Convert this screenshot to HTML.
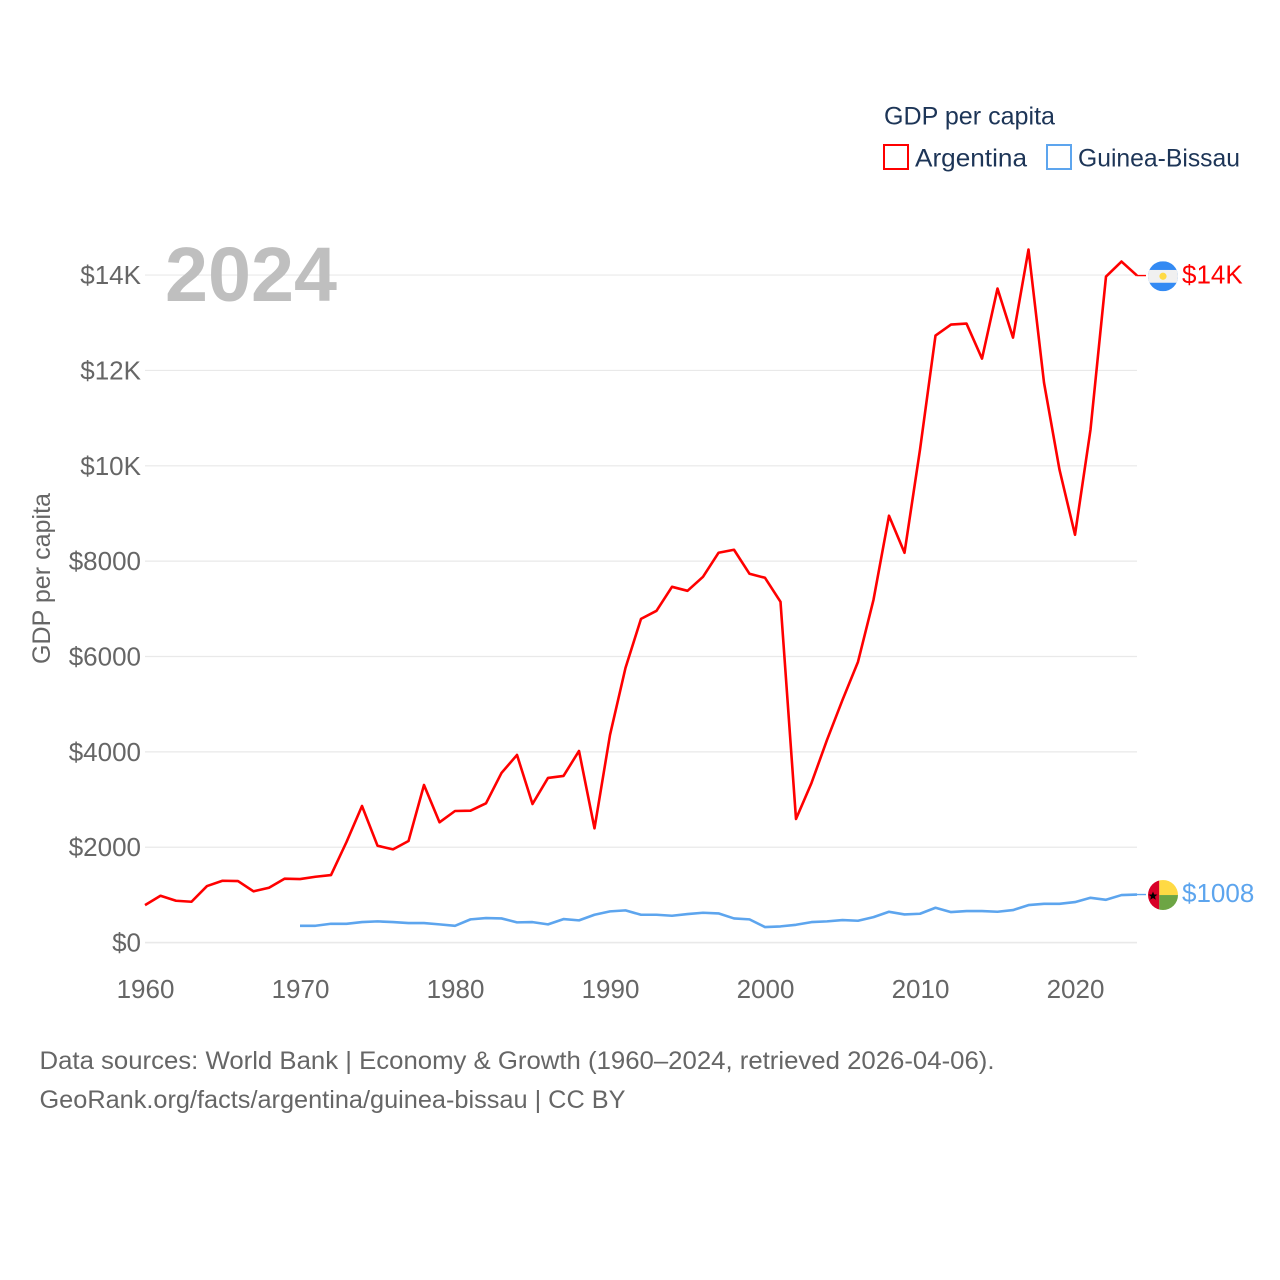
<!DOCTYPE html>
<html lang="en">
<head>
<meta charset="utf-8">
<title>GDP per capita: Argentina and Guinea-Bissau</title>
<style>
html,body{margin:0;padding:0;background:#fff;}
#chart{display:block;width:1280px;height:1280px;font-family:"Liberation Sans",sans-serif;}
</style>
</head>
<body>
<svg id="chart" xmlns="http://www.w3.org/2000/svg" width="1280" height="1280" viewBox="0 0 1280 1280">
  <rect x="0" y="0" width="1280" height="1280" fill="#ffffff"/>
  <g id="grid"></g>
  <g id="y-axis"></g>
  <g id="x-axis"></g>
  <text transform="translate(50,578.5) rotate(-90)" text-anchor="middle" font-size="25" fill="#666666" textLength="171" lengthAdjust="spacingAndGlyphs">GDP per capita</text>
  <text x="165" y="301" font-size="77" font-weight="700" fill="#bfbfbf" textLength="172" lengthAdjust="spacingAndGlyphs">2024</text>
  <g id="series"></g>
  <g id="flag-argentina"></g>
  <g id="flag-guinea"></g>
  <g id="end-labels"></g>
  <g>
    <text x="884" y="124.5" font-size="25" fill="#1d3557" textLength="171" lengthAdjust="spacingAndGlyphs">GDP per capita</text>
    <rect x="884" y="145" width="24" height="24" fill="none" stroke="#ff0000" stroke-width="2"/>
    <text x="915" y="166.5" font-size="25" fill="#1d3557" textLength="112" lengthAdjust="spacingAndGlyphs">Argentina</text>
    <rect x="1047" y="145" width="24" height="24" fill="none" stroke="#5da5ee" stroke-width="2"/>
    <text x="1078" y="166.5" font-size="25" fill="#1d3557" textLength="162" lengthAdjust="spacingAndGlyphs">Guinea-Bissau</text>
  </g>
  <text x="39.5" y="1069" font-size="25" fill="#666666" textLength="955" lengthAdjust="spacingAndGlyphs">Data sources: World Bank | Economy &amp; Growth (1960–2024, retrieved 2026-04-06).</text>
  <text x="39.5" y="1108" font-size="25" fill="#666666" textLength="586" lengthAdjust="spacingAndGlyphs">GeoRank.org/facts/argentina/guinea-bissau | CC BY</text>
</svg>
<script>
const years = [1960,1961,1962,1963,1964,1965,1966,1967,1968,1969,1970,1971,1972,1973,1974,1975,1976,1977,1978,1979,1980,1981,1982,1983,1984,1985,1986,1987,1988,1989,1990,1991,1992,1993,1994,1995,1996,1997,1998,1999,2000,2001,2002,2003,2004,2005,2006,2007,2008,2009,2010,2011,2012,2013,2014,2015,2016,2017,2018,2019,2020,2021,2022,2023,2024];
const argentinaValues = [787,982,878,857,1186,1297,1290,1075,1150,1340,1333,1381,1417,2110,2865,2032,1956,2130,3306,2523,2760,2767,2922,3558,3936,2907,3453,3495,4020,2397,4356,5762,6790,6958,7462,7378,7672,8176,8239,7735,7651,7147,2592,3348,4250,5090,5888,7190,8953,8176,10338,12731,12962,12983,12248,13717,12689,14536,11745,9918,8554,10758,13969,14284,13990];
const guineaValues = [null,null,null,null,null,null,null,null,null,null,353,353,395,395,430,445,430,409,409,382,353,487,514,507,424,430,382,493,466,584,655,676,584,584,563,598,626,612,507,487,325,340,374,430,445,472,458,535,647,591,605,731,640,661,661,647,682,787,814,814,850,940,898,997,1008];
const yTickValues = [0,2000,4000,6000,8000,10000,12000,14000];
const yTickLabels = ["$0","$2000","$4000","$6000","$8000","$10K","$12K","$14K"];
const xTickValues = [1960,1970,1980,1990,2000,2010,2020];
const xTickLabels = ["1960","1970","1980","1990","2000","2010","2020"];
const endLabels = ["$14K","$1008"];

const NS = "http://www.w3.org/2000/svg";
function xScale(year){ return 145 + (year - 1960) * 15.5; }
function yScale(value){ return 942.6 - value * 0.04768; }
function make(tag, attrs, parent){
  const el = document.createElementNS(NS, tag);
  for (const k in attrs) el.setAttribute(k, attrs[k]);
  parent.appendChild(el);
  return el;
}
function linePath(values){
  let d = "";
  values.forEach(function(v, i){
    if (v === null) return;
    d += (d ? "L" : "M") + xScale(years[i]).toFixed(2) + " " + yScale(v).toFixed(2);
  });
  return d;
}

const grid = document.getElementById("grid");
const yAxis = document.getElementById("y-axis");
yTickValues.forEach(function(v, i){
  const gl = make("line", {x1:xScale(1960), x2:xScale(2024), y1:yScale(v), y2:yScale(v), stroke:"#e9e9e9", "stroke-width":v === 0 ? 1.6 : 1.2}, grid);
  
  
  const t = make("text", {x:141, y:yScale(v) + 9, "text-anchor":"end", "font-size":26, fill:"#666666"}, yAxis);
  t.textContent = yTickLabels[i];
  
  
});

const xAxis = document.getElementById("x-axis");
xTickValues.forEach(function(v, i){
  const t = make("text", {x:xScale(v) + 0.5, y:998, "text-anchor":"middle", "font-size":26, fill:"#666666"}, xAxis);
  t.textContent = xTickLabels[i];
  
  
});

const series = document.getElementById("series");
const lastArg = argentinaValues[argentinaValues.length - 1];
const lastGui = guineaValues[guineaValues.length - 1];

const connA = make("line", {x1:xScale(2024), x2:1146, y1:yScale(lastArg), y2:yScale(lastArg), stroke:"#ff0000", "stroke-width":1.4}, series);


const connG = make("line", {x1:xScale(2024), x2:1146, y1:yScale(lastGui), y2:yScale(lastGui), stroke:"#5da5ee", "stroke-width":1.4}, series);



const guineaLine = make("path", {d:linePath(guineaValues), fill:"none", stroke:"#5da5ee", "stroke-width":2.6, "stroke-linejoin":"round"}, series);


const argentinaLine = make("path", {d:linePath(argentinaValues), fill:"none", stroke:"#ff0000", "stroke-width":2.6, "stroke-linejoin":"round"}, series);



/* flags follow the last data value */
const flagCx = 1163, flagR = 15;
const ay = yScale(lastArg) + 0.7;
const fa = document.getElementById("flag-argentina");
make("defs", {}, fa).innerHTML = '<clipPath id="clip-a"><circle cx="' + flagCx + '" cy="' + ay + '" r="' + flagR + '"/></clipPath>';
const aGroup = make("g", {"clip-path":"url(#clip-a)"}, fa);
make("rect", {x:flagCx - flagR, y:ay - flagR, width:30, height:30, fill:"#338af3"}, aGroup);
make("rect", {x:flagCx - flagR, y:ay - 6.3, width:30, height:12.8, fill:"#f0f0f0"}, aGroup);
make("circle", {cx:flagCx, cy:ay, r:3.6, fill:"#ffda44"}, aGroup);

const gy = yScale(lastGui) + 0.5;
const fg = document.getElementById("flag-guinea");
make("defs", {}, fg).innerHTML = '<clipPath id="clip-g"><circle cx="' + flagCx + '" cy="' + gy + '" r="' + flagR + '"/></clipPath>';
const gGroup = make("g", {"clip-path":"url(#clip-g)"}, fg);
make("rect", {x:flagCx - flagR, y:gy - flagR, width:11.3, height:30, fill:"#d80027"}, gGroup);
make("rect", {x:flagCx - 3.7, y:gy - flagR, width:18.7, height:15, fill:"#ffda44"}, gGroup);
make("rect", {x:flagCx - 3.7, y:gy, width:18.7, height:15, fill:"#6da544"}, gGroup);
const sx = flagCx - 10, sy = gy + 1;
make("polygon", {fill:"#000000", points:[[0,-4.6],[1.2,-1.5],[4.4,-1.4],[1.9,0.6],[2.8,3.7],[0,1.9],[-2.8,3.7],[-1.9,0.6],[-4.4,-1.4],[-1.2,-1.5]].map(function(p){return (sx+p[0])+","+(sy+p[1]);}).join(" ")}, gGroup);

const labels = document.getElementById("end-labels");
const la = make("text", {x:1182, y:ay + 7, "font-size":26, fill:"#ff0000"}, labels);
la.textContent = endLabels[0];


const lg = make("text", {x:1182, y:gy + 7, "font-size":26, fill:"#5da5ee"}, labels);
lg.textContent = endLabels[1];


</script>
</body>
</html>
